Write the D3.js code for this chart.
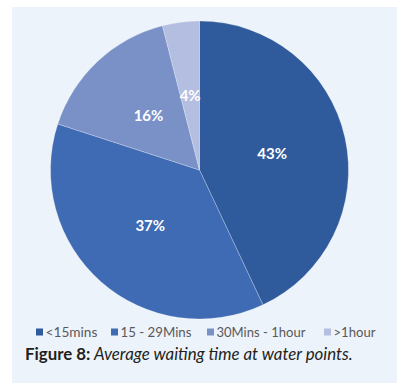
<!DOCTYPE html>
<html>
<head>
<meta charset="utf-8">
<script src="https://cdn.jsdelivr.net/npm/d3@7"></script>
<style>
  html, body { margin: 0; padding: 0; background: #ffffff; }
  svg { display: block; }
</style>
</head>
<body>
<svg id="chart" width="402" height="383"></svg>
<script>
// Waiting time categories and their shares (%)
const categories = ["<15mins", "15 - 29Mins", "30Mins - 1hour", ">1hour"];
const shares = [43, 37, 16, 4];
const colors = ["#2f5a9c", "#3e6bb4", "#7a91c8", "#b3bee0"];
const captionLead = "Figure 8:";
const captionText = " Average waiting time at water points.";

const svg = d3.select("#chart");
const font = "Lato, 'Open Sans', sans-serif";

// size a text node so that it spans the wanted width
function fitWidth(sel, width) {
  sel.each(function () {
    const node = this;
    const base = 10;
    d3.select(node).attr("font-size", base);
    const w = node.getComputedTextLength();
    if (w > 0) d3.select(node).attr("font-size", base * width / w);
  });
}

// light panel behind the figure
svg.append("rect")
  .attr("x", 12).attr("y", 7)
  .attr("width", 385).attr("height", 376)
  .attr("fill", "#edf3fa");

const cx = 199.5, cy = 170, r = 149;

const data = categories.map((c, i) => ({ cat: c, value: shares[i], color: colors[i] }));

const pie = d3.pie().value(d => d.value).sort(null);
const arc = d3.arc().innerRadius(0).outerRadius(r);

const g = svg.append("g").attr("transform", `translate(${cx},${cy})`);
const arcs = pie(data);

g.selectAll("path.slice")
  .data(arcs)
  .join("path")
  .attr("class", "slice")
  .attr("d", arc)
  .attr("fill", d => d.data.color)
  .attr("stroke", "rgba(255,255,255,0.35)")
  .attr("stroke-width", 0.7);

g.selectAll("text.pct")
  .data(arcs)
  .join("text")
  .attr("class", "pct")
  .attr("transform", d => `translate(${arc.centroid(d)})`)
  .attr("text-anchor", "middle")
  .attr("dy", "0.36em")
  .attr("fill", "#ffffff")
  .attr("font-family", font)
  .attr("font-weight", "bold")
  .attr("font-size", 15)
  .text(d => d.data.value + "%");

// legend
const legendX = [36, 111, 207, 324];
const legendW = [52, 71, 89, 42];
const legend = svg.append("g");
const items = legend.selectAll("g.item")
  .data(data)
  .join("g")
  .attr("class", "item")
  .attr("transform", (d, i) => `translate(${legendX[i]},332)`);
items.append("rect")
  .attr("x", 0).attr("y", -3.5)
  .attr("width", 7).attr("height", 7)
  .attr("fill", d => d.color);
const legendText = items.append("text")
  .attr("x", 9.5).attr("y", 0)
  .attr("dy", "0.35em")
  .attr("fill", "#595959")
  .attr("font-family", font)
  .text(d => d.cat);
legendText.each(function (d, i) { fitWidth(d3.select(this), legendW[i]); });

// caption
const cap = svg.append("text")
  .attr("x", 25).attr("y", 359.5)
  .attr("fill", "#231f20")
  .attr("font-family", font);
cap.append("tspan").attr("font-weight", "bold").text(captionLead);
cap.append("tspan").attr("font-style", "italic").text(captionText);
fitWidth(cap, 328);
</script>
</body>
</html>
